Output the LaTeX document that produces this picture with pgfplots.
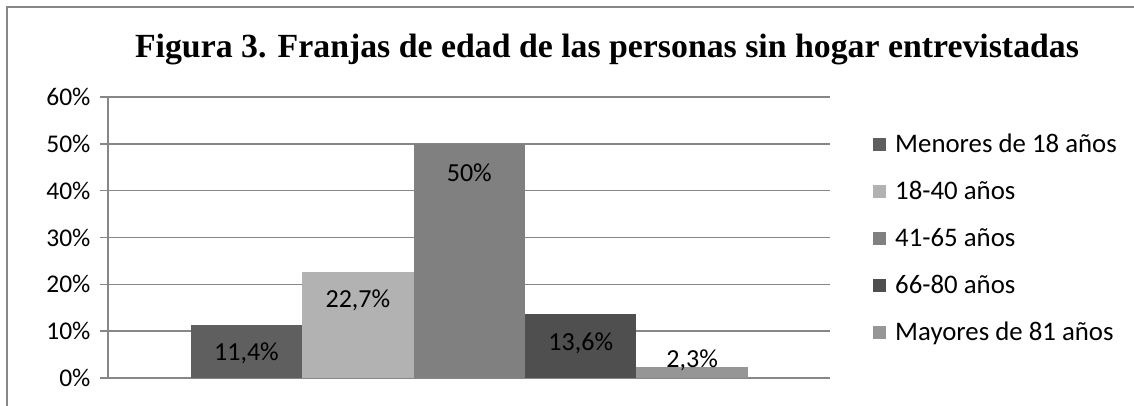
\documentclass[border=0pt]{standalone}
\usepackage{pgfplots}
\pgfplotsset{compat=1.18}
\usepackage{fontspec}
\setmainfont{Carlito}
\newfontfamily\titlefont{Liberation Serif}
\definecolor{sA}{HTML}{5F5F5F}
\definecolor{sB}{HTML}{B2B2B2}
\definecolor{sC}{HTML}{808080}
\definecolor{sD}{HTML}{4F4F4F}
\definecolor{sE}{HTML}{969696}
\definecolor{gridc}{HTML}{878787}
\begin{document}
\begin{tikzpicture}[x=1pt,y=1pt]
\draw[gridc, line width=1.5pt] (7,-10) -- (7,399) -- (1140,399);
\node[anchor=base, font=\titlefont\bfseries\fontsize{33.8}{40}\selectfont] at (607,348) {Figura 3. Franjas de edad de las personas sin hogar entrevistadas};
\begin{axis}[
  at={(108pt,28pt)}, anchor=south west,
  scale only axis, width=722pt, height=281pt,
  xmin=-0.243, xmax=6.237, ymin=0, ymax=60,
  axis x line*=bottom, axis y line*=left,
  axis line style={gridc, line width=1.5pt},
  xtick=\empty,
  ytick={0,10,20,30,40,50,60},
  ymajorgrids, major grid style={gridc, line width=1.5pt},
  tick align=outside, major tick length=8pt,
  tick style={gridc, line width=1.5pt},
  yticklabel={\pgfmathprintnumber{\tick}\%},
  yticklabel style={font=\fontsize{25.5}{30}\selectfont, xshift=-6pt},
  /pgf/number format/assume math mode=true,
  /pgf/number format/use comma,
  ybar, bar width=1, bar shift=0pt,
  every axis plot/.append style={draw=none},
  nodes near coords={\pgfmathprintnumber{\pgfplotspointmeta}\%},
  nodes near coords style={font=\fontsize{26}{30}\selectfont, anchor=center, yshift=-29pt, text=black},
  legend image code/.code={\fill[#1] (0pt,-6.5pt) rectangle (13pt,6.5pt);},
  legend style={draw=none, fill=none, at={(1.0596,0.9164)}, anchor=north west,
    inner sep=0pt, row sep=0pt, font=\fontsize{26.8}{30}\selectfont,
    nodes={inner sep=0pt, minimum height=47pt, anchor=west},
    /tikz/every odd column/.append style={column sep=9pt}},
  legend cell align=left,
  clip=false,
]
\addplot[fill=sA] coordinates {(1,11.4)};
\addplot[fill=sB] coordinates {(2,22.7)};
\addplot[fill=sC] coordinates {(3,50)};
\addplot[fill=sD] coordinates {(4,13.6)};
\addplot[fill=sE, nodes near coords style={yshift=36pt}] coordinates {(5,2.3)};
\legend{Menores de 18 años, 18-40 años, 41-65 años, 66-80 años, Mayores de 81 años}
\end{axis}
\pgfresetboundingbox
\useasboundingbox (0,0) rectangle (1134,406);
\end{tikzpicture}
\end{document}
